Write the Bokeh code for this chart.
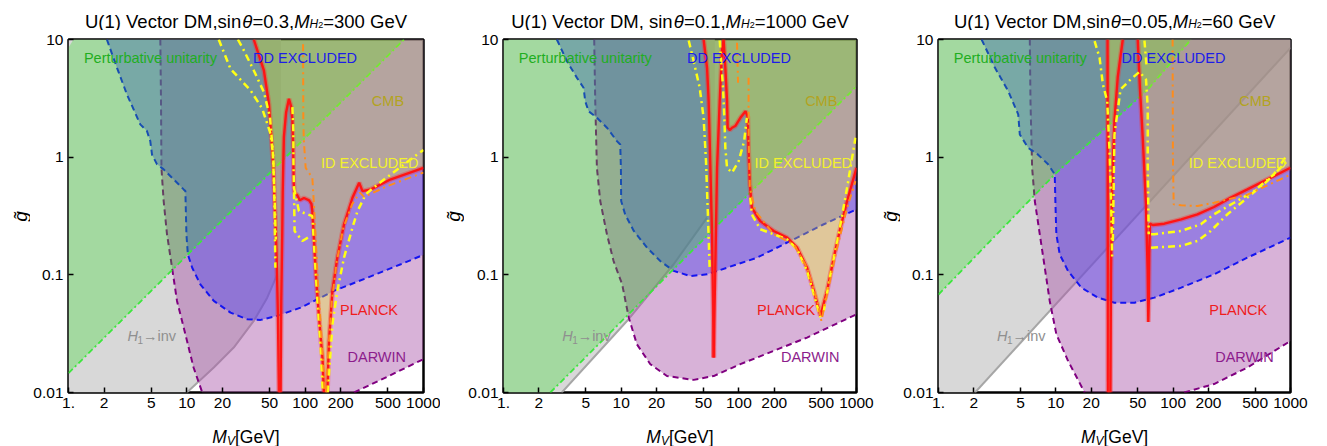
import math
from bokeh.plotting import figure
from bokeh.layouts import row, column
from bokeh.models import Range1d, FixedTicker
from bokeh.core.properties import value
from bokeh.embed import file_html
from bokeh.resources import INLINE

FONT = "Liberation Sans"

# ---------------- axes ----------------
x_ticks = [1, 2, 5, 10, 20, 50, 100, 200, 500, 1000]
x_tick_labels = ["1.", "2", "5", "10", "20", "50", "100", "200", "500", "1000"]
y_ticks = [0.01, 0.1, 1, 10]
y_tick_labels = ["0.01", "0.1", "1", "10"]

# ---------------- titles ----------------
title_prefix = ["U(1) Vector DM,sin", "U(1) Vector DM, sin", "U(1) Vector DM,sin"]
sin_theta = ["0.3", "0.1", "0.05"]
m_h2 = ["300", "1000", "60"]

# ---------------- region labels ----------------
region_labels = ["Perturbative unitarity", "DD EXCLUDED", "CMB", "ID EXCLUDED", "PLANCK", "DARWIN"]
region_label_colors = ["#1fae1f", "#1c1ce8", "#b3a321", "#f2f22c", "#ef1c1c", "#8c1c8c"]
region_label_M = [[1.35, 36.3, 366, 136, 197, 228],
                  [1.35, 36.3, 366, 136, 143, 228],
                  [1.35, 36.3, 366, 136, 203, 228]]
region_label_g = [7.0, 7.0, 3.0, 0.9, 0.05, 0.0201]
hinv_M = 3.15
hinv_g = 0.0303

# ================= PANEL 1 (sin=0.3, MH2=300) =================
p1_green_line = [(1, 0.0146), (685, 10)]
p1_green_region = [(1, 0.0146), (685, 10), (1.1, 10), (1, 8.5)]
p1_gray_line = [(10, 0.01), (16.9, 0.0163), (24.9, 0.0241), (36.8, 0.0406), (47.8, 0.064), (58.1, 0.101)]
p1_gray_region = [(1, 0.01)] + p1_gray_line + [(61.2, 0.22), (62.5, 0.5), (62.5, 10), (1, 10)]
p1_darwin_upper = [(5.97, 10), (6.05, 2.99), (6.1, 0.81), (6.37, 0.424), (6.8, 0.221), (7.5, 0.115),
                   (8.26, 0.06), (9.72, 0.0313), (11.4, 0.0163), (13.5, 0.01)]
p1_darwin_lower = [(259, 0.01), (500, 0.0137), (1000, 0.0192)]
p1_darwin_region = p1_darwin_upper + p1_darwin_lower + [(1000, 10)]
p1_dd_line = [(2.11, 10), (2.57, 5.74), (3.12, 3.41), (4.04, 1.9), (4.6, 1.67), (4.91, 1.37), (5.08, 1.05),
              (5.6, 0.869), (6.37, 0.787), (7.74, 0.647), (9.4, 0.532), (9.72, 0.515), (9.92, 0.221),
              (10.2, 0.149), (11.1, 0.115), (13.0, 0.083), (16.9, 0.06), (23.4, 0.0478), (32.4, 0.0419),
              (42, 0.0414), (58.1, 0.0448), (91.5, 0.0526), (127, 0.062), (175, 0.073), (336, 0.0946),
              (643, 0.123), (1000, 0.148)]
p1_dd_region = p1_dd_line + [(1000, 10)]
p1_red = [
    [(36.8, 10), (44.8, 5.46), (49.4, 2.84), (51.7, 1.48), (53.8, 0.813), (55.1, 0.424), (56.6, 0.221),
     (57.7, 0.115), (58.9, 0.0434), (60.0, 0.01)],
    [(62.0, 0.01), (62.8, 0.06), (64.0, 0.221), (64.6, 0.5), (65.5, 1.0), (66.1, 1.48), (69, 2.4),
     (72.9, 3.13), (76, 2.7), (78, 2.05), (79.4, 1.0), (80.0, 0.6), (81, 0.5), (85.8, 0.475), (90, 0.43),
     (97.7, 0.45), (108, 0.43), (113, 0.40), (115, 0.348), (119, 0.194), (123, 0.101), (131, 0.0434),
     (140, 0.0198), (144, 0.01)],
    [(154, 0.01), (159, 0.0275), (170, 0.073), (187, 0.14), (213, 0.269), (251, 0.452), (286, 0.607),
     (305, 0.515), (359, 0.533), (530, 0.649), (1000, 0.81)],
]
p1_relic_region = [[(36.8, 10)] + p1_red[0] + p1_red[1] + p1_red[2] + [(1000, 10)]]
p1_yellow = [
    [(18.6, 10), (23.4, 5.62), (34.6, 3.69), (43.4, 2.58), (51, 1.58), (53.8, 1.0), (55, 0.42), (56, 0.115)],
    [(27, 10), (29.4, 8.6), (36.8, 5.46), (44.8, 3.57), (50.4, 2.19), (53, 1.2), (55, 0.5), (56.5, 0.2)],
    [(78, 2.66), (79.4, 1.69), (79.6, 0.9), (80.4, 0.55), (81.4, 0.236), (94.6, 0.194), (111, 0.214)],
    [(80.4, 0.55), (88.5, 0.348), (115, 0.316), (120, 0.15), (127, 0.06), (135, 0.025), (141, 0.01)],
    [(155, 0.01), (159, 0.0143), (170, 0.0381), (187, 0.073), (213, 0.14), (251, 0.252), (277, 0.349),
     (325, 0.483), (409, 0.587), (530, 0.714), (891, 1.06), (1000, 1.15)],
]
p1_orange = [
    [(96, 9.1), (96.5, 2.0), (97.5, 1.37), (101, 0.81), (115, 0.668), (119, 0.372), (123, 0.194),
     (127, 0.101), (135, 0.0379), (144, 0.014), (146, 0.01)],
    [(150, 0.01), (158, 0.025), (168, 0.06), (185, 0.13), (210, 0.25), (250, 0.4), (290, 0.5),
     (315, 0.46), (500, 0.57), (1000, 0.74)],
]

# ================= PANEL 2 (sin=0.1, MH2=1000) =================
p2_green_line = [(2.5, 0.01), (1000, 4.0)]
p2_green_region = [(1, 0.01), (2.5, 0.01), (1000, 4.0), (1000, 10), (1, 10)]
p2_gray_line = [(3.13, 0.01), (11.2, 0.0405), (27.9, 0.123), (53.7, 0.306)]
p2_gray_region = [(1, 0.01)] + p2_gray_line + [(62.5, 0.45), (62.5, 10), (1, 10)]
p2_darwin_upper = [(5.9, 10), (6.02, 2.99), (6.22, 0.813), (6.64, 0.424), (7.57, 0.221), (8.62, 0.131),
                   (10.2, 0.083), (11.6, 0.0434), (13.6, 0.0257), (17.7, 0.0174), (24.5, 0.0138),
                   (41.3, 0.0128), (61.1, 0.0138), (103, 0.0174), (198, 0.0226), (380, 0.0293),
                   (1000, 0.0462)]
p2_darwin_region = p2_darwin_upper + [(1000, 10)]
p2_dd_line = [(2.84, 10), (3.46, 6.55), (4.21, 4.72), (4.79, 3.89), (4.95, 2.99), (5.28, 2.46), (6.22, 2.16),
              (7.57, 1.78), (9.2, 1.37), (9.82, 1.28), (9.95, 0.813), (10.0, 0.424), (10.8, 0.327),
              (12.8, 0.236), (16.6, 0.17), (21.5, 0.131), (27.9, 0.108), (38.7, 0.0977), (53.7, 0.101),
              (79.4, 0.115), (143, 0.14), (274, 0.194), (527, 0.269), (1000, 0.36)]
p2_dd_region = p2_dd_line + [(1000, 10)]
p2_red = [
    [(50.2, 10), (53.7, 5.74), (55.4, 2.99), (57.3, 0.813), (59.2, 0.221), (60.3, 0.06), (61.1, 0.0198)],
    [(61.1, 0.0198), (61.8, 0.04), (63.1, 0.115), (65.3, 0.813), (68.8, 2.99), (71.9, 7.96), (74.2, 10),
     (76.8, 5.74), (79.4, 2.99), (80.4, 1.78), (84, 1.7), (87.5, 1.78), (93.3, 1.84), (103, 2.16),
     (114, 2.46), (119, 2.2), (121, 1.13), (124, 0.587), (129, 0.372), (152, 0.286), (198, 0.236),
     (257, 0.207), (313, 0.17), (380, 0.115), (434, 0.073), (494, 0.0448), (562, 0.073), (641, 0.14),
     (731, 0.252), (832, 0.424), (1000, 0.813)],
]
p2_relic_region = [[(50.2, 10)] + p2_red[0] + p2_red[1][1:] + [(1000, 10)]]
p2_yellow = [
    [(37.5, 9.8), (41.3, 6.55), (46.5, 3.89), (50.2, 2.16), (52.6, 0.927), (54.7, 0.306), (56.5, 0.115)],
    [(68.8, 9.8), (73.4, 3.89), (75.3, 2.16), (76.8, 1.2), (79.4, 0.813), (87.5, 0.738), (99.7, 0.927),
     (111, 1.37), (117, 2.16)],
    [(125, 0.453), (129, 0.327), (152, 0.244), (198, 0.221), (257, 0.2), (313, 0.165), (380, 0.108),
     (434, 0.0684), (494, 0.0434)],
    [(527, 0.0493), (601, 0.101), (706, 0.221), (832, 0.55), (980, 1.46)],
]
p2_orange = [
    [(96.5, 9.37), (98.5, 4.29)],
    [(121, 4.72), (121, 1.56), (124, 0.55), (138, 0.348), (198, 0.221), (293, 0.182), (380, 0.115),
     (463, 0.06), (503, 0.0406), (562, 0.0684), (684, 0.17), (832, 0.372), (980, 0.626)],
]

# ================= PANEL 3 (sin=0.05, MH2=60) =================
p3_green_line = [(1, 0.068), (9.79, 0.715), (60.7, 3.76), (142, 10)]
p3_green_region = p3_green_line + [(1, 10)]
p3_gray_line = [(2.05, 0.01), (1000, 8.5)]
p3_gray_region = [(1, 0.01)] + p3_gray_line + [(1000, 10), (1, 10)]
p3_darwin_upper = [(6.0, 10), (6.08, 2.99), (6.28, 0.813), (6.62, 0.424), (7.3, 0.221), (8.05, 0.115),
                   (8.87, 0.06), (10.1, 0.0313), (12.7, 0.0186), (17.6, 0.01)]
p3_darwin_lower = [(124, 0.01), (223, 0.0118), (429, 0.0163), (1000, 0.0274)]
p3_darwin_region = p3_darwin_upper + p3_darwin_lower + [(1000, 10)]
p3_dd_line = [(2.33, 10), (3.03, 5.74), (3.93, 3.64), (4.78, 2.31), (4.93, 1.56), (5.81, 1.2), (7.06, 1.05),
              (8.59, 0.869), (9.79, 0.715), (9.91, 0.424), (10.1, 0.221), (10.8, 0.149), (12.7, 0.108),
              (16.5, 0.0778), (22.8, 0.064), (31.6, 0.058), (46.8, 0.058), (69.2, 0.064), (117, 0.0778),
              (223, 0.101), (429, 0.14), (1000, 0.207)]
p3_dd_region = p3_dd_line + [(1000, 10)]
p3_red = [
    [(27.6, 10), (27.8, 0.01)],
    [(29.2, 0.01), (29.5, 0.1), (30.2, 0.6), (31.6, 2.05), (33.7, 4.78), (37.2, 10)],
    [(49.9, 10), (52, 4.0), (55, 1.48), (58.6, 0.402), (60.6, 0.109), (61.4, 0.0398), (62.0, 0.06),
     (62.6, 0.15), (63.4, 0.272), (66.9, 0.265), (84.1, 0.272), (117, 0.296), (161, 0.327), (223, 0.377),
     (310, 0.453), (429, 0.532), (594, 0.626), (1000, 0.813)],
]
p3_relic_region = [p3_red[0] + p3_red[1], p3_red[2] + [(1000, 10)]]
p3_yellow = [
    [(21.4, 9.68), (23.6, 6.98), (25.2, 4.15), (27.4, 2.99), (28.7, 1.13), (29.6, 0.424), (30.2, 0.14)],
    [(30.6, 0.194), (31.6, 1.56), (35.6, 3.76), (43.3, 4.57), (51.6, 5.31), (58.7, 4.57), (60.7, 2.63),
     (60.7, 0.813), (61.9, 0.221)],
    [(56.9, 9.8), (59.5, 5.74)],
    [(64.8, 0.221), (69.2, 0.221), (117, 0.236), (172, 0.269), (223, 0.327), (330, 0.41), (489, 0.515),
     (722, 0.715), (937, 1.05)],
    [(64.8, 0.17), (117, 0.176), (161, 0.194), (209, 0.236), (290, 0.327), (429, 0.453), (634, 0.626),
     (937, 0.927)],
]
p3_orange = [
    [(98.9, 10), (99.5, 1.0), (101, 0.397), (117, 0.39), (161, 0.385), (223, 0.41), (429, 0.48), (1000, 0.71)],
]

panels = [
    dict(green_line=p1_green_line, green_region=p1_green_region, gray_line=p1_gray_line,
         gray_region=p1_gray_region, darwin_lines=[p1_darwin_upper, p1_darwin_lower],
         darwin_region=p1_darwin_region, dd_line=p1_dd_line, dd_region=p1_dd_region, red=p1_red,
         relic=p1_relic_region, yellow=p1_yellow, orange=p1_orange),
    dict(green_line=p2_green_line, green_region=p2_green_region, gray_line=p2_gray_line,
         gray_region=p2_gray_region, darwin_lines=[p2_darwin_upper],
         darwin_region=p2_darwin_region, dd_line=p2_dd_line, dd_region=p2_dd_region, red=p2_red,
         relic=p2_relic_region, yellow=p2_yellow, orange=p2_orange),
    dict(green_line=p3_green_line, green_region=p3_green_region, gray_line=p3_gray_line,
         gray_region=p3_gray_region, darwin_lines=[p3_darwin_upper, p3_darwin_lower],
         darwin_region=p3_darwin_region, dd_line=p3_dd_line, dd_region=p3_dd_region, red=p3_red,
         relic=p3_relic_region, yellow=p3_yellow, orange=p3_orange),
]

# ---------------- layout / style ----------------
H = 446
FIG_W = [440, 440, 447]        # total width of each panel block
FL = [68, 63, 57]              # frame left offset in each block
FR = [17, 24, 37]              # right border in each block
LS = [30, 24, 20]              # width of the strip holding the rotated y label
YLAB_X = [20, 13, 10]          # centre of y label inside strip
TOP_H = 30                     # title strip height
TITLE_BASE = 9.5               # title baseline above the bottom of the title strip
MAIN_TOP = 9
FH = 353                       # frame height
MAIN_BOT = 26
MAIN_H = MAIN_TOP + FH + MAIN_BOT
BOT_H = H - TOP_H - MAIN_H

GRAY_FILL = "#d8d8d8"
PINK, PINK_A = "#aa58aa", 0.46
BLUE, BLUE_A = "#574ae9", 0.48
GREEN, GREEN_A = "#21db17", 0.29
YEL, YEL_A = "#f1f80b", 0.30

# Arial-like advance widths (1/1000 em)
AW = {'U': 722, '(': 333, ')': 333, '1': 556, ' ': 278, 'V': 667, 'e': 556, 'c': 500, 't': 278, 'o': 556,
      'r': 333, 'D': 722, 'M': 833, ',': 278, 's': 500, 'i': 222, 'n': 556, 'θ': 556, '=': 584, '.': 278,
      'H': 722, 'G': 778, '[': 278, ']': 278}


def tw(s, size):
    return sum(AW.get(c, 556) for c in s) * size / 1000.0


def xs(pts):
    return [p[0] for p in pts]


def ys(pts):
    return [p[1] for p in pts]


def strip(w, h, xr):
    s = figure(width=w, height=h, x_range=Range1d(0, xr), y_range=Range1d(0, h),
               output_backend="svg", toolbar_location=None, min_border=0,
               min_border_left=0, min_border_right=0, min_border_top=0, min_border_bottom=0,
               x_axis_location=None, y_axis_location=None,
               background_fill_color="white", border_fill_color="white")
    s.grid.visible = False
    s.outline_line_color = None
    return s


def add_pieces(s, pieces, x0, base_y):
    cx = x0
    for t, st, size, dy in pieces:
        s.text(x=[cx], y=[base_y - dy], text=[t], text_font=value(FONT), text_font_style=st,
               text_font_size=f"{size}px", text_color="black", text_align="left",
               text_baseline="alphabetic")
        cx += tw(t, size)


def make_main(i, w):
    p = figure(width=w, height=MAIN_H, x_axis_type="log", y_axis_type="log",
               x_range=Range1d(1, 1000), y_range=Range1d(0.01, 10),
               output_backend="svg", toolbar_location=None,
               min_border_left=FL[i] - LS[i], min_border_right=FR[i], min_border_top=MAIN_TOP,
               min_border_bottom=MAIN_BOT,
               background_fill_color="white", border_fill_color="white")
    p.grid.visible = False
    p.outline_line_color = "black"
    p.outline_line_width = 2.5

    p.xaxis.ticker = FixedTicker(ticks=x_ticks, minor_ticks=[])
    p.xaxis.major_label_overrides = {t: l for t, l in zip(x_ticks, x_tick_labels)}
    p.yaxis.ticker = FixedTicker(ticks=y_ticks, minor_ticks=[])
    p.yaxis.major_label_overrides = {t: l for t, l in zip(y_ticks, y_tick_labels)}
    for ax in (p.xaxis[0], p.yaxis[0]):
        ax.axis_line_color = None
        ax.major_tick_in = 5
        ax.major_tick_out = 0
        ax.major_tick_line_width = 1.5
        ax.major_tick_line_color = "black"
        ax.minor_tick_line_color = None
        ax.major_label_text_font = FONT
        ax.major_label_text_font_size = "15.5px"
        ax.major_label_text_color = "black"
    p.xaxis.major_label_standoff = 5
    p.yaxis.major_label_standoff = 5

    d = panels[i]
    # H1 -> inv (gray)
    p.patch(xs(d["gray_region"]), ys(d["gray_region"]), fill_color=GRAY_FILL, fill_alpha=1.0, line_color=None)
    p.line(xs(d["gray_line"]), ys(d["gray_line"]), line_color="#a6a6a6", line_width=2)
    # DARWIN
    p.patch(xs(d["darwin_region"]), ys(d["darwin_region"]), fill_color=PINK, fill_alpha=PINK_A, line_color=None)
    for seg in d["darwin_lines"]:
        p.line(xs(seg), ys(seg), line_color="#800080", line_width=2, line_dash="6 4")
    # DD excluded
    p.patch(xs(d["dd_region"]), ys(d["dd_region"]), fill_color=BLUE, fill_alpha=BLUE_A, line_color=None)
    p.line(xs(d["dd_line"]), ys(d["dd_line"]), line_color="#1515f0", line_width=2, line_dash="6 4")
    # perturbative unitarity
    p.patch(xs(d["green_region"]), ys(d["green_region"]), fill_color=GREEN, fill_alpha=GREEN_A, line_color=None)
    p.line(xs(d["green_line"]), ys(d["green_line"]), line_color="#3de63d", line_width=1.8,
           line_dash="6 3 2 3")
    # relic / ID region (yellow wash)
    for reg in d["relic"]:
        p.patch(xs(reg), ys(reg), fill_color=YEL, fill_alpha=YEL_A, line_color=None)
    # curves on top
    for seg in d["red"]:
        p.line(xs(seg), ys(seg), line_color="#ff2a2a", line_width=5, line_alpha=0.35)
        p.line(xs(seg), ys(seg), line_color="#ff1414", line_width=2.4)
    for seg in d["yellow"]:
        p.line(xs(seg), ys(seg), line_color="#ffff14", line_width=2.5, line_dash="7 4 2 4")
    for seg in d["orange"]:
        p.line(xs(seg), ys(seg), line_color="#ff8c1a", line_width=2, line_dash="7 4 2 4")

    # region labels
    p.text(x=region_label_M[i], y=region_label_g, text=region_labels,
           text_color=region_label_colors, text_font=value(FONT), text_font_size="14.5px",
           text_align="left", text_baseline="middle")
    # H1 -> inv label
    p.text(x=[hinv_M], y=[hinv_g], text=["H"], text_font=value(FONT), text_font_style="italic",
           text_font_size="14.5px", text_color="#8f8f8f", text_baseline="middle", text_align="left")
    p.text(x=[hinv_M], y=[hinv_g], x_offset=10, y_offset=4, text=["1"], text_font=value(FONT),
           text_font_size="10px", text_color="#8f8f8f", text_baseline="middle", text_align="left")
    p.text(x=[hinv_M], y=[hinv_g], x_offset=15.5, text=["→inv"], text_font=value(FONT),
           text_font_size="14.5px", text_color="#8f8f8f", text_baseline="middle", text_align="left")
    return p


def make_panel(i):
    inner_w = FIG_W[i] - LS[i]
    fw = FIG_W[i] - FL[i] - FR[i]
    # strips stacked with the main plot get their frames aligned with its frame,
    # so their x coordinates run over the frame width (origin at frame left edge)
    top = strip(inner_w, TOP_H, fw)
    pieces = [(title_prefix[i], "normal", 18.5, 0), ("θ", "italic", 18.5, 0),
              ("=" + sin_theta[i] + ",", "normal", 18.5, 0), ("M", "italic", 18.5, 0),
              ("H", "italic", 12, 3), ("2", "normal", 9, 4), ("=" + m_h2[i] + " GeV", "normal", 18.5, 0)]
    total = sum(tw(t, s) for t, _, s, _ in pieces)
    add_pieces(top, pieces, fw / 2.0 - total / 2.0, TITLE_BASE)

    main = make_main(i, inner_w)

    bot = strip(inner_w, BOT_H, fw)
    xp = [("M", "italic", 17.5, 0), ("V", "italic", 12, 4), ("[GeV]", "normal", 17.5, 0)]
    total = sum(tw(t, s) for t, _, s, _ in xp)
    add_pieces(bot, xp, fw / 2.0 - total / 2.0, H - 436)

    left = strip(LS[i], H, LS[i])
    left.text(x=[YLAB_X[i]], y=[H - 216], text=["g\u0303"], text_font=value(FONT), text_font_style="italic",
              text_font_size="19px", text_color="black", text_align="center", text_baseline="middle",
              angle=math.pi / 2)

    return row(left, column(top, main, bot, spacing=0), spacing=0)


layout = row(*[make_panel(i) for i in range(3)], spacing=0)
open("out.html", "w").write(file_html(layout, INLINE))
